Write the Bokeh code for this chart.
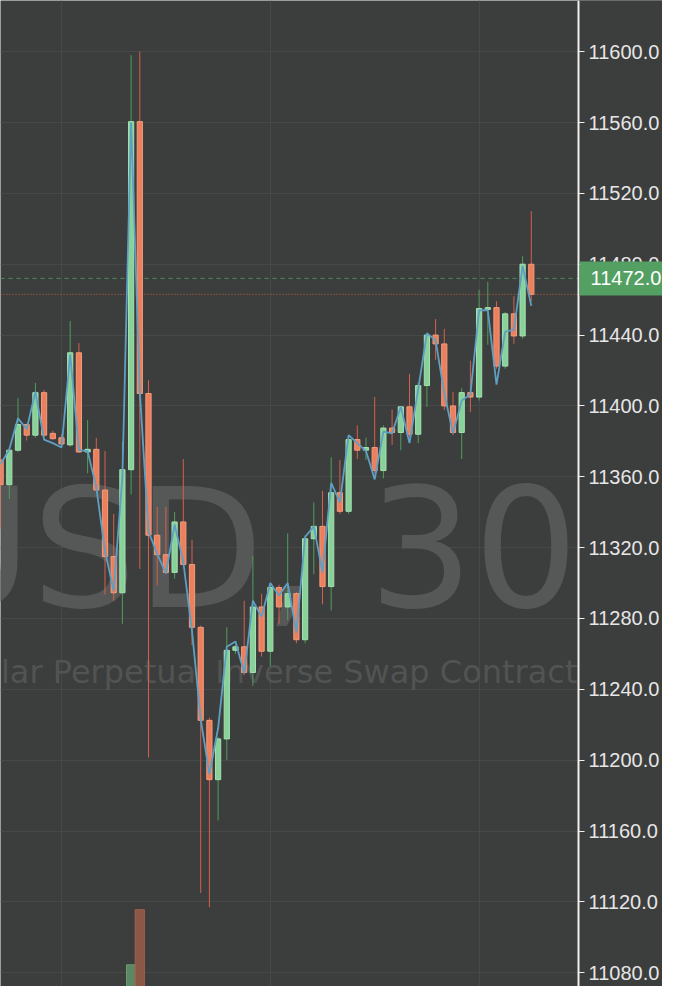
from bokeh.plotting import figure
from bokeh.models import (Range1d, FixedTicker, Span, Label, ColumnDataSource,
                          NumeralTickFormatter, BoxAnnotation)
from bokeh.core.properties import value
from bokeh.embed import file_html
from bokeh.resources import INLINE

# ---------------- data (30-minute candles) ----------------
opens = [11369.5, 11355.5, 11375, 11389.5, 11383.5, 11407.5, 11384.5, 11382, 11378, 11430,
         11374, 11375.5, 11352.5, 11315, 11294.5, 11364, 11560.5, 11407, 11327, 11316,
         11306, 11334.5, 11310.5, 11275, 11222.5, 11189, 11212, 11262, 11264, 11249.5,
         11286.5, 11261.5, 11297.5, 11286.5, 11294, 11268, 11325, 11332, 11298, 11351,
         11340.5, 11381, 11375, 11376.5, 11363.5, 11387.5, 11385, 11399.5, 11384, 11411.5,
         11440, 11435, 11400, 11385, 11407.5, 11405, 11454.5, 11455.5, 11422.5, 11452,
         11439.5, 11480]
highs = [11371, 11376, 11404.5, 11390, 11413, 11409, 11386, 11384, 11448, 11435.5,
         11392, 11382, 11374.5, 11339, 11380, 11598, 11600, 11414.5, 11343, 11343,
         11340, 11370, 11324.5, 11276, 11224, 11213, 11275, 11265, 11290, 11315.5,
         11294, 11300, 11299, 11328, 11295, 11327, 11345.5, 11352, 11371, 11369.5,
         11383.5, 11389, 11382, 11405, 11389, 11398, 11400, 11418, 11413, 11441,
         11449, 11443.5, 11408, 11410, 11425.5, 11465.5, 11470, 11459, 11453, 11462,
         11484.5, 11510]
lows = [11330.5, 11347.5, 11374, 11380.5, 11382, 11382.5, 11381, 11377, 11377, 11373.5,
        11362, 11352, 11293.5, 11290, 11277, 11350, 11308, 11201.5, 11298.5, 11305,
        11302.5, 11310, 11265, 11125, 11117, 11166, 11200, 11260, 11248, 11242,
        11258.5, 11253, 11277, 11279, 11266, 11266, 11305, 11288, 11284.5, 11339,
        11339, 11370, 11369.5, 11362, 11359, 11378, 11375, 11382.5, 11379, 11399.5,
        11426, 11397.5, 11383.5, 11370, 11396.5, 11403, 11434.5, 11421, 11421, 11435,
        11438, 11459]
closes = [11355.5, 11375, 11389.5, 11383.5, 11407.5, 11383.5, 11381.5, 11378.5, 11430, 11374,
          11375.5, 11352.5, 11315, 11294.5, 11364, 11560.5, 11407, 11327, 11316, 11306,
          11334.5, 11310.5, 11275, 11222.5, 11189, 11212, 11262, 11264, 11249.5, 11286.5,
          11261.5, 11297.5, 11286.5, 11294, 11268, 11325, 11332, 11298, 11351, 11340.5,
          11381, 11375, 11376.5, 11363.5, 11387.5, 11385, 11399.5, 11384, 11411.5, 11440,
          11435, 11400, 11385, 11407.5, 11405, 11455, 11455.5, 11422.5, 11452, 11439.5,
          11480, 11463]
mark_price = [11367, 11375.5, 11393, 11387, 11408, 11381, 11379, 11376.5, 11429, 11375,
              11374.5, 11354, 11318, 11295.5, 11360, 11560, 11408.5, 11329, 11316.5, 11305.5,
              11333, 11312, 11273, 11223, 11192, 11218, 11264, 11267, 11249, 11290,
              11281, 11300, 11293, 11300, 11272, 11326, 11332, 11306, 11356.5, 11345.5,
              11383.5, 11379, 11374.5, 11358.5, 11385.5, 11384.5, 11399.5, 11379, 11409.5, 11441,
              11437, 11407, 11384.5, 11403, 11406.5, 11454, 11454, 11412, 11442, 11443,
              11479, 11456.5]
volume = [35, 28, 40, 22, 38, 30, 15, 18, 62, 55, 30, 33, 58, 45, 70, 120, 176, 95, 48, 40,
          45, 52, 66, 90, 88, 72, 60, 25, 38, 50, 42, 36, 28, 30, 34, 55, 40, 48, 60, 30,
          45, 26, 20, 38, 36, 22, 30, 35, 40, 55, 30, 48, 40, 45, 28, 70, 52, 50, 38, 32,
          60, 45]
mark_label = 11472.0
price_ticks = list(range(11040, 11681, 40))
symbol_text = "XBTUSD, 30"
description_text = "Bitcoin / US Dollar Perpetual Inverse Swap Contract"

# ---------------- layout constants ----------------
BG = "#3c3d3d"
UP_FILL, UP_LINE, UP_WICK = "#88d29a", "#a4e0b2", "#4f9e5c"
DN_FILL, DN_LINE, DN_WICK = "#ec7f5c", "#f49c7e", "#d5604c"
FRAME_W, FRAME_H = 662, 986
PANE_W = 578                      # width of the price pane, the scale sits to its right
PX_PER_BAR = 8.7
X0 = 7 - 61 / PX_PER_BAR
X1 = X0 + FRAME_W / PX_PER_BAR
X_AXIS = X0 + PANE_W / PX_PER_BAR
Y1, Y0 = 11628.89, 11072.22
PX_PER_UNIT = FRAME_H / (Y1 - Y0)

idx = list(range(len(opens)))
up = [c >= o for o, c in zip(opens, closes)]
src = ColumnDataSource(dict(
    x=idx, o=opens, h=highs, l=lows, c=closes, v=volume,
    top=[max(o, c) for o, c in zip(opens, closes)],
    bottom=[min(o, c) for o, c in zip(opens, closes)],
    fill=[UP_FILL if u else DN_FILL for u in up],
    line=[UP_LINE if u else DN_LINE for u in up],
    wick=[UP_WICK if u else DN_WICK for u in up],
    vfill=["#5b8763" if u else "#8b5747" for u in up],
    vline=["#6c9e73" if u else "#a6614d" for u in up],
))

p = figure(frame_width=FRAME_W, frame_height=FRAME_H,
           x_range=Range1d(X0, X1), y_range=Range1d(Y0, Y1),
           y_axis_location="right", x_axis_location=None,
           output_backend="svg", toolbar_location=None,
           min_border_left=0, min_border_top=0, min_border_bottom=0, min_border_right=0)
p.background_fill_color = BG
p.border_fill_color = BG
p.outline_line_color = None

# grids
p.xgrid.ticker = FixedTicker(ticks=[7, 31, 55])
p.ygrid.ticker = FixedTicker(ticks=price_ticks)
for g in (p.xgrid, p.ygrid):
    g.grid_line_color = "#474848"
    g.grid_line_width = 1

# price lines (under the scale area mask)
p.add_layout(Span(location=closes[-1], dimension="width", line_color="#c8643f",
                  line_dash="1 2", line_width=1, level="underlay"))
p.add_layout(Span(location=mark_label, dimension="width", line_color="#4f8d63",
                  line_dash="4 4", line_width=1, level="underlay"))

# price-scale area background (hides grid / price lines right of the pane)
p.add_layout(BoxAnnotation(left=X_AXIS, right=X1 + 5, bottom=Y0 - 50, top=Y1 + 50,
                           fill_color=BG, fill_alpha=1, line_color=None, level="underlay"))

# axis (price scale) at the right edge of the pane
ax = p.yaxis[0]
ax.fixed_location = X_AXIS
ax.ticker = FixedTicker(ticks=price_ticks)
ax.formatter = NumeralTickFormatter(format="0.0")
ax.axis_line_color = "#f0f0f0"
ax.axis_line_width = 2
ax.major_tick_line_color = "#f0f0f0"
ax.major_tick_out = 6
ax.major_tick_in = 0
ax.minor_tick_line_color = None
ax.major_label_text_color = "#e6e6e6"
ax.major_label_text_font = "Liberation Sans"
ax.major_label_text_font_size = "20px"
ax.major_label_standoff = 4

# watermark
p.text(x=[X_AXIS], y=[11318.4], text=[symbol_text],
       text_align="right", text_baseline="alphabetic",
       text_font=value("DejaVu Sans"), text_font_size="165px", text_color="#565757")
p.text(x=[X_AXIS - 1 / PX_PER_BAR], y=[11250.0], text=[description_text],
       text_align="right", text_baseline="alphabetic",
       text_font=value("DejaVu Sans"), text_font_size="32px", text_color="#525353")

# volume (bottom pane, scaled so that only the big bars reach into view)
p.extra_y_ranges = {"vol": Range1d(98, 98 + 1002)}
p.vbar(x="x", top="v", bottom=0, width=1.05, source=src, y_range_name="vol",
       fill_color="vfill", line_color="vline", line_width=1)

# candles
p.segment(x0="x", y0="h", x1="x", y1="l", source=src, line_color="wick", line_width=1)
p.vbar(x="x", top="top", bottom="bottom", width=0.6, source=src,
       fill_color="fill", line_color="line", line_width=1)

# mark price line
p.line(idx, mark_price, line_color="#5e9fc4", line_width=1.8)

p.add_layout(Label(x=X_AXIS, y=mark_label, x_offset=1, text=f"{mark_label:.1f}",
                   text_align="left", text_baseline="middle",
                   text_font="Liberation Sans", text_font_size="20px", text_color="#ffffff",
                   background_fill_color="#54a063", border_line_color=None,
                   padding=(11, 10)))

open("out.html", "w").write(file_html(p, INLINE))
